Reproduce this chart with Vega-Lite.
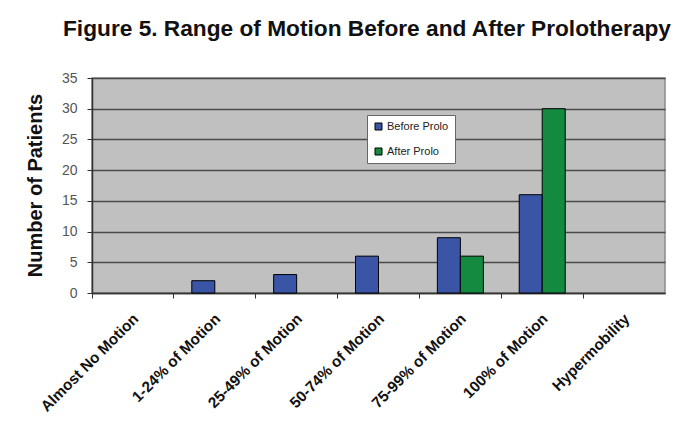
{
  "$schema": "https://vega.github.io/schema/vega-lite/v6.json",
  "width": 573,
  "height": 215,
  "autosize": {"type": "none"},
  "padding": {"left": 92, "top": 78, "right": 18, "bottom": 140},
  "background": "white",
  "title": {
    "text": "Figure 5. Range of Motion Before and After Prolotherapy",
    "anchor": "start",
    "frame": "group",
    "dx": -29,
    "offset": 12,
    "baseline": "alphabetic",
    "font": "Liberation Sans",
    "fontSize": 22.7,
    "fontWeight": "bold",
    "color": "#111"
  },
  "data": {
    "values": [
      {"category": "Almost No Motion", "group": "Before Prolo", "patients": 0},
      {"category": "1-24% of Motion", "group": "Before Prolo", "patients": 2},
      {"category": "25-49% of Motion", "group": "Before Prolo", "patients": 3},
      {"category": "50-74% of Motion", "group": "Before Prolo", "patients": 6},
      {"category": "75-99% of Motion", "group": "Before Prolo", "patients": 9},
      {"category": "100% of Motion", "group": "Before Prolo", "patients": 16},
      {"category": "Hypermobility", "group": "Before Prolo", "patients": 0},
      {"category": "Almost No Motion", "group": "After Prolo", "patients": 0},
      {"category": "1-24% of Motion", "group": "After Prolo", "patients": 0},
      {"category": "25-49% of Motion", "group": "After Prolo", "patients": 0},
      {"category": "50-74% of Motion", "group": "After Prolo", "patients": 0},
      {"category": "75-99% of Motion", "group": "After Prolo", "patients": 6},
      {"category": "100% of Motion", "group": "After Prolo", "patients": 30},
      {"category": "Hypermobility", "group": "After Prolo", "patients": 0}
    ]
  },
  "mark": {"type": "bar", "stroke": "black", "strokeWidth": 1},
  "encoding": {
    "x": {
      "field": "category",
      "type": "nominal",
      "sort": ["Almost No Motion", "1-24% of Motion", "25-49% of Motion", "50-74% of Motion", "75-99% of Motion", "100% of Motion", "Hypermobility"],
      "scale": {"paddingInner": 0, "paddingOuter": 0},
      "axis": {
        "title": null,
        "bandPosition": 0,
        "labelOffset": -2,
        "labelAngle": -45,
        "labelAlign": "right",
        "labelBaseline": "top",
        "labelPadding": 13,
        "labelFont": "Liberation Sans",
        "labelFontSize": 15.3,
        "labelFontWeight": "bold",
        "labelColor": "#111",
        "tickSize": 5,
        "tickColor": "#333",
        "domainColor": "#333",
        "domainWidth": 1.5,
        "grid": false
      }
    },
    "xOffset": {
      "field": "group",
      "type": "nominal",
      "sort": ["Before Prolo", "After Prolo"],
      "scale": {"paddingInner": 0, "paddingOuter": 0.78}
    },
    "y": {
      "field": "patients",
      "type": "quantitative",
      "scale": {"domain": [0, 35], "nice": false},
      "axis": {
        "title": "Number of Patients",
        "titleFont": "Liberation Sans",
        "titleFontSize": 20,
        "titleFontWeight": "bold",
        "titleColor": "#111",
        "titleAngle": -90,
        "titleX": -57,
        "titleY": 107,
        "titleAlign": "center",
        "titleBaseline": "middle",
        "values": [0, 5, 10, 15, 20, 25, 30, 35],
        "labelFont": "Liberation Sans",
        "labelFontSize": 14,
        "labelColor": "#555",
        "labelPadding": 10,
        "tickSize": 5,
        "tickColor": "#333",
        "domainColor": "#333",
        "domainWidth": 1.5,
        "grid": true,
        "gridColor": "#4a4a4a",
        "gridWidth": 1.5
      }
    },
    "strokeOpacity": {
      "condition": {"test": "datum.patients > 0", "value": 1},
      "value": 0
    },
    "color": {
      "field": "group",
      "type": "nominal",
      "sort": ["Before Prolo", "After Prolo"],
      "scale": {"domain": ["Before Prolo", "After Prolo"], "range": ["#3a55a6", "#138a40"]},
      "legend": {
        "title": null,
        "orient": "none",
        "legendX": 275,
        "legendY": 37,
        "fillColor": "white",
        "strokeColor": "#666",
        "padding": 6,
        "rowPadding": 13,
        "symbolType": "square",
        "symbolSize": 49,
        "symbolStrokeColor": "black",
        "symbolStrokeWidth": 1,
        "symbolOpacity": 1,
        "labelFont": "Liberation Sans",
        "labelFontSize": 11,
        "labelColor": "#222",
        "labelOffset": 3,
        "offset": 0
      }
    }
  },
  "config": {
    "view": {"fill": "#c0c0c0", "stroke": "#8a8a8a", "strokeWidth": 1.5}
  }
}
